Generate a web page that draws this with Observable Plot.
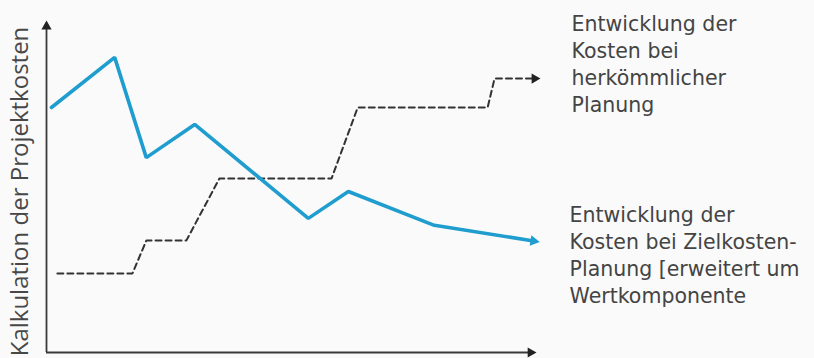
<!DOCTYPE html>
<html>
<head>
<meta charset="utf-8">
<script src="https://cdn.jsdelivr.net/npm/d3@7"></script>
<script src="https://cdn.jsdelivr.net/npm/@observablehq/plot@0.6"></script>
<style>
  html, body { margin: 0; padding: 0; background: #fafafa; }
</style>
</head>
<body>
<div id="chart"></div>
<script>
// Zielkosten-Planung (blue, solid)
const targetX = [1.0, 13.8, 20.2, 30.0, 53.0, 61.1, 78.5, 98.6];
const targetY = [73.8, 88.9, 58.7, 68.7, 40.4, 48.5, 38.3, 33.6];

// Herkömmliche Planung (dashed)
const classicX = [2.2, 17.4, 20.2, 28.3, 35.0, 57.7, 63.0, 89.3, 90.7, 98.8];
const classicY = [23.8, 23.8, 33.7, 33.7, 52.4, 52.4, 73.8, 73.8, 82.5, 82.5];

// Axis extents (schematic, no ticks)
const xAxisEnd = 98.0;
const yAxisEnd = 98.2;

const yLabel = "Kalkulation der Projektkosten";
const classicLabel = ["Entwicklung der", "Kosten bei", "herkömmlicher", "Planung"];
const targetLabel = ["Entwicklung der", "Kosten bei Zielkosten-", "Planung [erweitert um", "Wertkomponente"];

const target = targetX.map((x, i) => ({x, y: targetY[i]}));
const classic = classicX.map((x, i) => ({x, y: classicY[i]}));
const targetEnd = target[target.length - 1];
const classicEnd = classic[classic.length - 1];

const blue = "#1f9dcf";
const dark = "#333333";

const chart = Plot.plot({
  width: 814,
  height: 358,
  marginLeft: 46,
  marginRight: 274,
  marginTop: 20,
  marginBottom: 6,
  style: {background: "#fafafa", overflow: "visible"},
  x: {domain: [0, 100], axis: null},
  y: {domain: [0, 100], axis: null},
  marks: [
    // axes
    Plot.ruleY([0], {x1: 0, x2: xAxisEnd, stroke: "#3a3a3a", strokeWidth: 1.8}),
    Plot.ruleX([0], {y1: 0, y2: yAxisEnd, stroke: "#3a3a3a", strokeWidth: 1.8}),
    Plot.dot([{x: xAxisEnd, y: 0}], {x: "x", y: "y", symbol: "triangle", r: 3.8, fill: "#222", rotate: 90}),
    Plot.dot([{x: 0, y: yAxisEnd}], {x: "x", y: "y", symbol: "triangle", r: 3.8, fill: "#222", rotate: 0}),
    // dashed conventional planning
    Plot.line(classic, {x: "x", y: "y", stroke: dark, strokeWidth: 2, strokeDasharray: "6,4", strokeLinejoin: "miter"}),
    Plot.dot([classicEnd], {x: "x", y: "y", symbol: "triangle", r: 3.8, fill: "#222", rotate: 90}),
    // target costing
    Plot.line(target, {x: "x", y: "y", stroke: blue, strokeWidth: 3.6, strokeLinejoin: "miter"}),
    Plot.dot([targetEnd], {x: "x", y: "y", symbol: "triangle", r: 4, fill: blue, rotate: 99}),
    // labels
    Plot.text([classicEnd], {x: "x", y: "y", text: () => classicLabel.join("\n"), textAnchor: "start", lineAnchor: "top",
      dx: 37, dy: -67, fontSize: 20.5, lineHeight: 1.32, fill: "#444", fontFamily: "DejaVu Sans"}),
    Plot.text([targetEnd], {x: "x", y: "y", text: () => targetLabel.join("\n"), textAnchor: "start", lineAnchor: "top",
      dx: 36, dy: -38, fontSize: 20.5, lineHeight: 1.32, fill: "#444", fontFamily: "DejaVu Sans"}),
    Plot.text([yLabel], {frameAnchor: "left", text: d => d, rotate: -90, dx: -26, dy: 5,
      textAnchor: "middle", lineAnchor: "middle", fontSize: 24, fill: "#484848", fontFamily: "Open Sans"})
  ]
});
document.getElementById("chart").append(chart);
</script>
</body>
</html>
